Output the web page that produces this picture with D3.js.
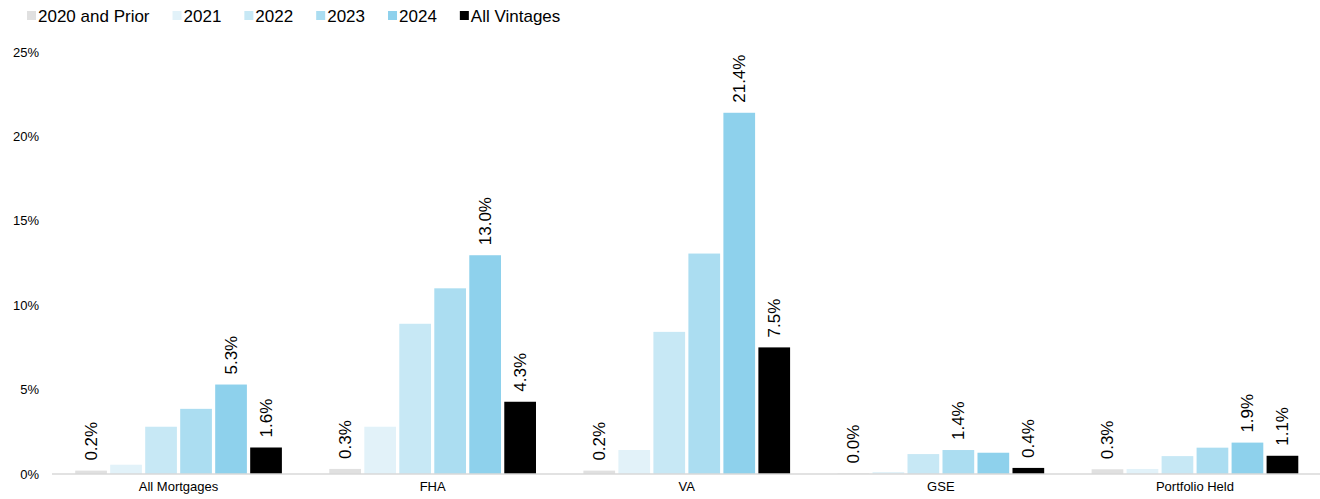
<!DOCTYPE html>
<html>
<head>
<meta charset="utf-8">
<script src="https://cdn.jsdelivr.net/npm/d3@7"></script>
<style>
  body { margin: 0; background: #fff; }
  svg { display: block; font-family: Arial, "Liberation Sans", sans-serif; }
</style>
</head>
<body>
<script>
// Categories and vintages
const categories = ["All Mortgages", "FHA", "VA", "GSE", "Portfolio Held"];
const vintages = ["2020 and Prior", "2021", "2022", "2023", "2024", "All Vintages"];
const colors = ["#e0e0e0", "#e2f2f9", "#c7e8f5", "#abddf1", "#8ed1ec", "#000000"];

// Values in percent, one array per vintage (order follows categories)
const v2020 = [0.2, 0.3, 0.2, 0.03, 0.28];
const v2021 = [0.55, 2.8, 1.42, 0.12, 0.3];
const v2022 = [2.8, 8.9, 8.42, 1.18, 1.06];
const v2023 = [3.86, 11.0, 13.06, 1.42, 1.56];
const v2024 = [5.3, 12.96, 21.4, 1.26, 1.86];
const vAll = [1.57, 4.28, 7.5, 0.36, 1.08];
const seriesValues = [v2020, v2021, v2022, v2023, v2024, vAll];

// Which vintages carry a value label in each category
const labelled = [
    ["2020 and Prior", "2024", "All Vintages"],
    ["2020 and Prior", "2024", "All Vintages"],
    ["2020 and Prior", "2024", "All Vintages"],
    ["2020 and Prior", "2023", "All Vintages"],
    ["2020 and Prior", "2024", "All Vintages"]
];

const yTicks = [0, 5, 10, 15, 20, 25];

const width = 1320;
const height = 499;

const svg = d3.select("body").append("svg")
    .attr("width", width)
    .attr("height", height);

const x0 = d3.scaleBand()
    .domain(categories)
    .range([51.5, 1322])
    .paddingInner(0.1866)
    .paddingOuter(0.0933);

const x1 = d3.scaleBand()
    .domain(vintages)
    .range([0, x0.bandwidth()])
    .paddingInner(0.094);

const y = d3.scaleLinear()
    .domain([0, 25])
    .range([474, 52]);

const color = d3.scaleOrdinal().domain(vintages).range(colors);

// Left axis: labels only
const yAxis = svg.append("g")
    .attr("transform", "translate(39,0)")
    .call(d3.axisLeft(y).tickValues(yTicks).tickSize(0).tickPadding(0).tickFormat(d => d + "%"));
yAxis.select(".domain").remove();
yAxis.selectAll("text")
    .attr("font-size", 13)
    .attr("font-family", "Arial, 'Liberation Sans', sans-serif")
    .attr("fill", "#000");

// Bars
const rows = categories.map((c, i) => ({
    category: c,
    values: vintages.map((v, j) => ({ vintage: v, value: seriesValues[j][i], category: c, show: labelled[i].includes(v) }))
}));

const groups = svg.append("g")
    .selectAll("g")
    .data(rows)
    .join("g")
    .attr("transform", d => `translate(${x0(d.category)},0)`);

groups.selectAll("rect")
    .data(d => d.values)
    .join("rect")
    .attr("x", d => x1(d.vintage))
    .attr("y", d => y(d.value))
    .attr("width", x1.bandwidth())
    .attr("height", d => y(0) - y(d.value))
    .attr("fill", d => color(d.vintage));

// Value labels, rotated
groups.selectAll("text")
    .data(d => d.values.filter(v => v.show))
    .join("text")
    .attr("transform", d => `translate(${x1(d.vintage) + x1.bandwidth() / 2},${y(d.value) - 10}) rotate(-90)`)
    .attr("dominant-baseline", "central")
    .attr("font-size", 17)
    .attr("fill", "#000")
    .text(d => d.value.toFixed(1) + "%");

// Bottom axis line and category labels
svg.append("line")
    .attr("x1", 52).attr("x2", 1320)
    .attr("y1", y(0)).attr("y2", y(0))
    .attr("stroke", "#d9d9d9")
    .attr("stroke-width", 1.5);

const xAxis = svg.append("g")
    .attr("transform", `translate(0,${y(0)})`)
    .call(d3.axisBottom(x0).tickSize(0).tickPadding(8));
xAxis.select(".domain").remove();
xAxis.selectAll("text")
    .attr("font-size", 13)
    .attr("font-family", "Arial, 'Liberation Sans', sans-serif")
    .attr("fill", "#000");

// Legend
const legend = svg.append("g");
let lx = 27;
vintages.forEach(v => {
    legend.append("rect")
        .attr("x", lx).attr("y", 11)
        .attr("width", 9).attr("height", 9)
        .attr("fill", color(v));
    const t = legend.append("text")
        .attr("x", lx + 11).attr("y", 21.5)
        .attr("font-size", 17)
        .attr("fill", "#000")
        .text(v);
    lx += 11 + t.node().getComputedTextLength() + 23;
});
</script>
</body>
</html>
